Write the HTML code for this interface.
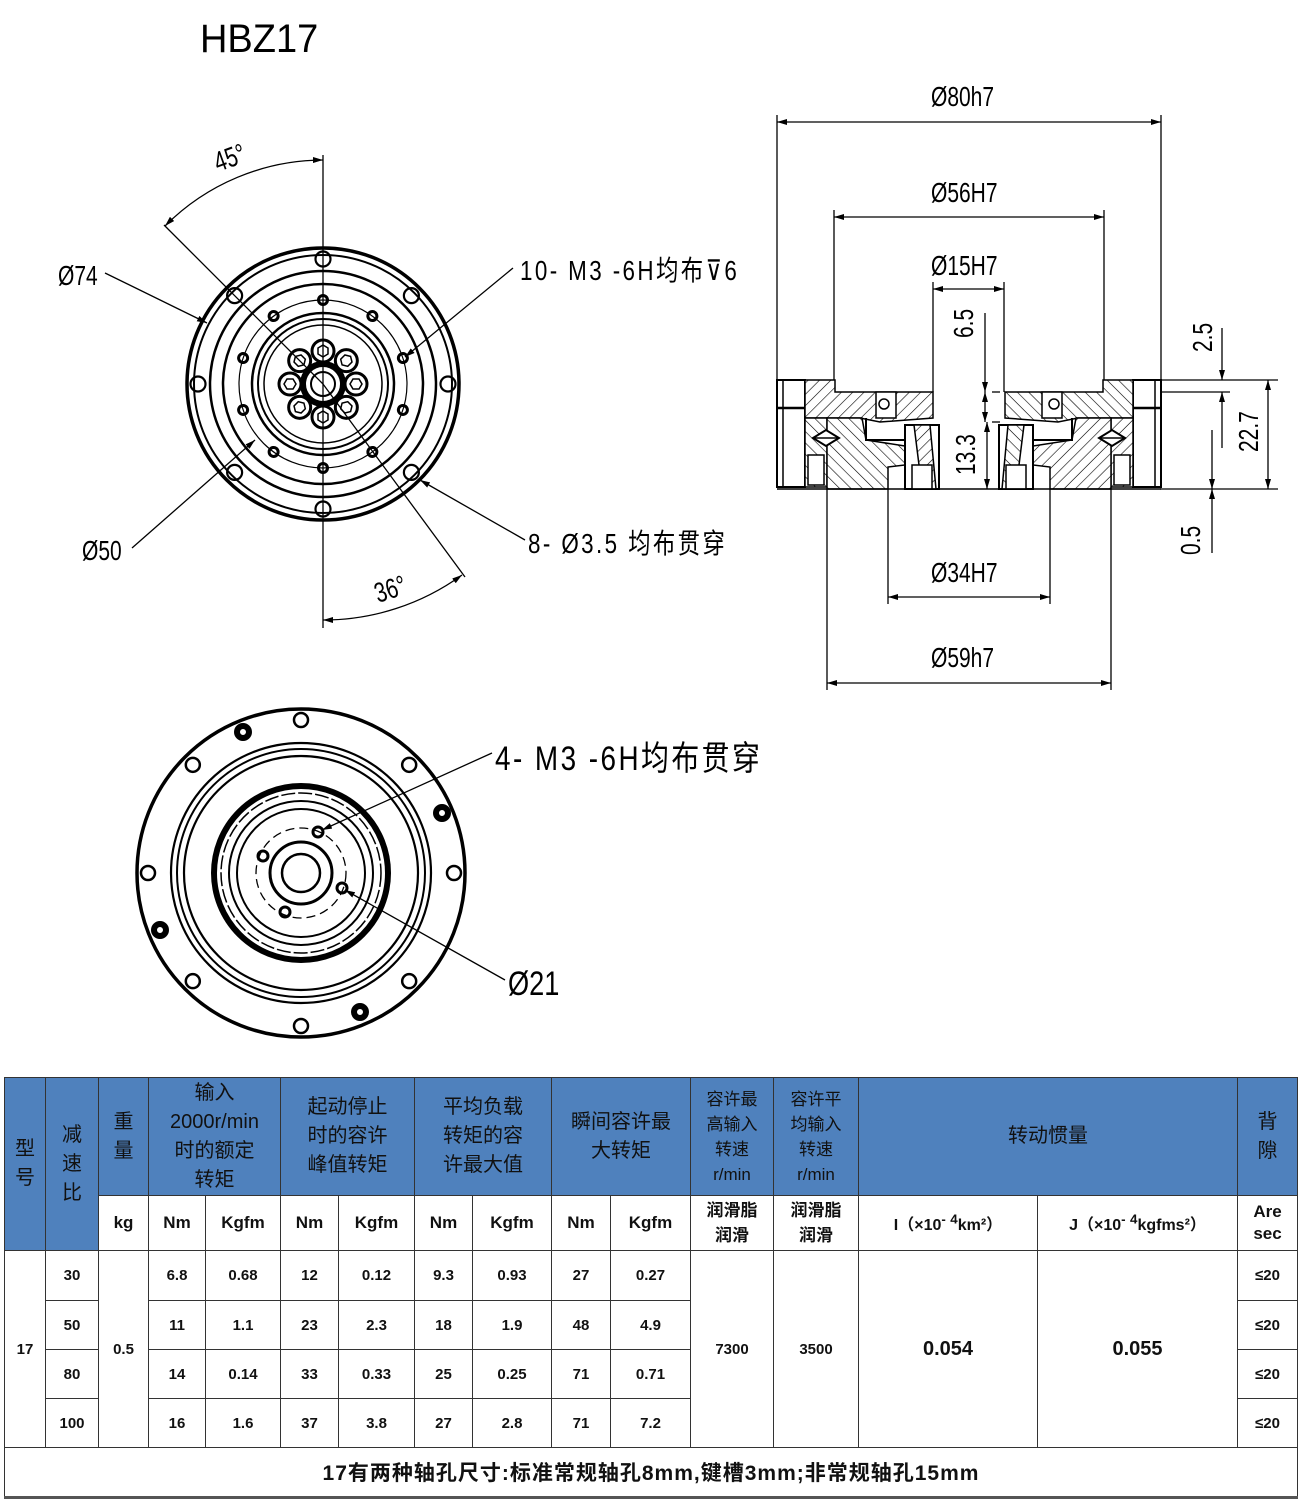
<!DOCTYPE html>
<html><head><meta charset="utf-8">
<style>
html,body{margin:0;padding:0;background:#fff;}
body{width:1300px;height:1505px;position:relative;overflow:hidden;font-family:"Liberation Sans","Noto Sans CJK SC",sans-serif;}
svg{position:absolute;left:0;top:0;}
table{position:absolute;left:4px;top:1077px;border-collapse:collapse;table-layout:fixed;width:1293px;}
td{border:1px solid #333;text-align:center;vertical-align:middle;padding:0;font-size:15px;font-weight:bold;color:#111;}
td.h{background:#4f81bd;font-weight:normal;font-size:20px;line-height:29px;color:#111;}
tr.u td{font-size:17px;}
.big{font-size:20px !important;}
</style></head><body>
<svg width="1300" height="1075" viewBox="0 0 1300 1075">
<defs>
<pattern id="hx" width="8" height="8" patternUnits="userSpaceOnUse" patternTransform="rotate(45)">
<rect width="8" height="8" fill="#fff"/><line x1="0" y1="0" x2="0" y2="8" stroke="#000" stroke-width="1.2"/></pattern>
<pattern id="hx2" width="8" height="8" patternUnits="userSpaceOnUse" patternTransform="rotate(-45)">
<rect width="8" height="8" fill="#fff"/><line x1="0" y1="0" x2="0" y2="8" stroke="#000" stroke-width="1.2"/></pattern>
<marker id="ar" markerWidth="10" markerHeight="6" refX="10" refY="3" orient="auto-start-reverse" markerUnits="userSpaceOnUse"><path d="M0,0 L10,3 L0,6 z" fill="#000"/></marker>
</defs>
<text x="200" y="52" font-size="40" font-family="Liberation Sans" transform="translate(200,0) scale(0.95,1) translate(-200,0)">HBZ17</text>

<!-- TOP VIEW -->
<g fill="none" stroke="#000">
<circle cx="323" cy="384" r="136" stroke-width="3.5"/>
<circle cx="323" cy="384" r="129" stroke-width="2"/>
<circle cx="323" cy="384" r="113" stroke-width="2.5"/>
<circle cx="323" cy="384" r="100" stroke-width="2.5"/>
<circle cx="323" cy="384" r="84" stroke-width="1.2"/>
<circle cx="323" cy="384" r="71" stroke-width="2.5"/>
<circle cx="323" cy="384" r="65" stroke-width="2"/>
<circle cx="323" cy="384" r="59" stroke-width="1.5"/>
<circle cx="323" cy="384" r="20" stroke-width="6"/>
<circle cx="323" cy="384" r="12" stroke-width="2"/>
<line x1="323" y1="155" x2="323" y2="628" stroke-width="1.3"/>
<line x1="323" y1="384" x2="164" y2="225" stroke-width="1.3"/>
<line x1="323" y1="384" x2="465" y2="577" stroke-width="1.3"/>
<path d="M323,160 A224,224 0 0 0 165,226" stroke-width="1.3" marker-start="url(#ar)" marker-end="url(#ar)"/>
<path d="M323,620 A236,236 0 0 0 462,575" stroke-width="1.3" marker-start="url(#ar)" marker-end="url(#ar)"/>
<g stroke-width="2.2">
<g id="oh"><circle cx="323" cy="259" r="7.5"/></g>
<use href="#oh" transform="rotate(45 323 384)"/><use href="#oh" transform="rotate(90 323 384)"/>
<use href="#oh" transform="rotate(135 323 384)"/><use href="#oh" transform="rotate(180 323 384)"/>
<use href="#oh" transform="rotate(225 323 384)"/><use href="#oh" transform="rotate(270 323 384)"/>
<use href="#oh" transform="rotate(315 323 384)"/>
</g>
<g stroke-width="3">
<g id="ih"><circle cx="323" cy="300" r="4.5"/></g>
<use href="#ih" transform="rotate(36 323 384)"/><use href="#ih" transform="rotate(72 323 384)"/>
<use href="#ih" transform="rotate(108 323 384)"/><use href="#ih" transform="rotate(144 323 384)"/>
<use href="#ih" transform="rotate(180 323 384)"/><use href="#ih" transform="rotate(216 323 384)"/>
<use href="#ih" transform="rotate(252 323 384)"/><use href="#ih" transform="rotate(288 323 384)"/>
<use href="#ih" transform="rotate(324 323 384)"/>
</g>
<g stroke-width="3">
<g id="nut"><circle cx="323" cy="351" r="11"/><polygon points="323,345 328,348 328,354 323,357 318,354 318,348" stroke-width="1.5"/></g>
<use href="#nut" transform="rotate(45 323 384)"/><use href="#nut" transform="rotate(90 323 384)"/>
<use href="#nut" transform="rotate(135 323 384)"/><use href="#nut" transform="rotate(180 323 384)"/>
<use href="#nut" transform="rotate(225 323 384)"/><use href="#nut" transform="rotate(270 323 384)"/>
<use href="#nut" transform="rotate(315 323 384)"/>
</g>
<g stroke-width="1.3">
<line x1="105" y1="273" x2="207" y2="323" marker-end="url(#ar)"/>
<line x1="513" y1="268" x2="405" y2="357" marker-end="url(#ar)"/>
<line x1="525" y1="540" x2="420" y2="480" marker-end="url(#ar)"/>
<line x1="132" y1="548" x2="255" y2="440" marker-end="url(#ar)"/>
</g>
</g>
<g font-family="Liberation Sans,'Noto Sans CJK SC',sans-serif" font-size="28" fill="#000">
<text transform="translate(58,285) scale(0.75,1)">Ø74</text>
<text transform="translate(82,560) scale(0.75,1)">Ø50</text>
<text transform="translate(520,280) scale(0.8,1)" letter-spacing="3">10- M3 -6H均布⊽6</text>
<text transform="translate(528,553) scale(0.8,1)" letter-spacing="3">8- Ø3.5 均布贯穿</text>
<text transform="translate(218,172) rotate(-20) scale(0.75,1)">45°</text>
<text transform="translate(378,603) rotate(-18) scale(0.75,1)">36°</text>
<text transform="translate(495,770) scale(0.82,1)" font-size="34" letter-spacing="3">4- M3 -6H均布贯穿</text>
<text transform="translate(508,995) scale(0.8,1)" font-size="34">Ø21</text>
</g>

<!-- BOTTOM VIEW -->
<g fill="none" stroke="#000">
<circle cx="301" cy="873" r="164" stroke-width="3.5"/>
<circle cx="301" cy="873" r="130" stroke-width="2.2"/>
<circle cx="301" cy="873" r="124" stroke-width="2"/>
<circle cx="301" cy="873" r="117" stroke-width="2.2"/>
<circle cx="301" cy="873" r="87" stroke-width="6"/>
<circle cx="301" cy="873" r="80" stroke-width="1.5" stroke-dasharray="14 3"/>
<circle cx="301" cy="873" r="72" stroke-width="2"/>
<circle cx="301" cy="873" r="64" stroke-width="2"/>
<circle cx="301" cy="873" r="45" stroke-width="1.3" stroke-dasharray="9 5"/>
<circle cx="301" cy="873" r="31" stroke-width="3"/>
<circle cx="301" cy="873" r="19" stroke-width="2.5"/>
<g stroke-width="2.5">
<g id="bh"><circle cx="301" cy="720" r="7"/></g>
<use href="#bh" transform="rotate(45 301 873)"/><use href="#bh" transform="rotate(90 301 873)"/>
<use href="#bh" transform="rotate(135 301 873)"/><use href="#bh" transform="rotate(180 301 873)"/>
<use href="#bh" transform="rotate(225 301 873)"/><use href="#bh" transform="rotate(270 301 873)"/>
<use href="#bh" transform="rotate(315 301 873)"/>
</g>
<g stroke-width="6">
<circle cx="243" cy="732" r="6"/><circle cx="442" cy="813" r="6"/>
<circle cx="160" cy="930" r="6"/><circle cx="360" cy="1012" r="6"/>
</g>
<g stroke-width="3">
<circle cx="318" cy="832" r="5"/><circle cx="263" cy="856" r="5"/>
<circle cx="342" cy="888" r="5"/><circle cx="285" cy="912" r="5"/>
</g>
<g stroke-width="1.3">
<line x1="492" y1="753" x2="322" y2="830" marker-end="url(#ar)"/>
<line x1="505" y1="980" x2="345" y2="890" marker-end="url(#ar)"/>
</g>
</g>

<!-- SECTION VIEW -->
<g fill="none" stroke="#000" stroke-width="1.3">
<line x1="777" y1="115" x2="777" y2="380"/><line x1="1161" y1="115" x2="1161" y2="380"/>
<line x1="834" y1="210" x2="834" y2="380"/><line x1="1104" y1="210" x2="1104" y2="380"/>
<line x1="933" y1="282" x2="933" y2="392"/><line x1="1004" y1="282" x2="1004" y2="392"/>
<line x1="827" y1="489" x2="827" y2="690"/><line x1="1111" y1="489" x2="1111" y2="690"/>
<line x1="888" y1="489" x2="888" y2="604"/><line x1="1050" y1="489" x2="1050" y2="604"/>
<line x1="777" y1="122" x2="1161" y2="122" marker-start="url(#ar)" marker-end="url(#ar)"/>
<line x1="834" y1="217" x2="1104" y2="217" marker-start="url(#ar)" marker-end="url(#ar)"/>
<line x1="933" y1="289" x2="1004" y2="289" marker-start="url(#ar)" marker-end="url(#ar)"/>
<line x1="888" y1="597" x2="1050" y2="597" marker-start="url(#ar)" marker-end="url(#ar)"/>
<line x1="827" y1="683" x2="1111" y2="683" marker-start="url(#ar)" marker-end="url(#ar)"/>
<line x1="1160" y1="380" x2="1278" y2="380"/><line x1="1110" y1="392" x2="1230" y2="392"/>
<line x1="1160" y1="489" x2="1278" y2="489"/>
<line x1="1268" y1="380" x2="1268" y2="489" marker-start="url(#ar)" marker-end="url(#ar)"/>
<line x1="1222" y1="328" x2="1222" y2="380" marker-end="url(#ar)"/>
<line x1="1222" y1="448" x2="1222" y2="392" marker-end="url(#ar)"/>
<line x1="1212" y1="430" x2="1212" y2="489" marker-end="url(#ar)"/>
<line x1="1212" y1="553" x2="1212" y2="489" marker-end="url(#ar)"/>
<line x1="985" y1="313" x2="985" y2="392" marker-end="url(#ar)"/>
<line x1="985" y1="392" x2="985" y2="422" marker-start="url(#ar)" marker-end="url(#ar)"/>
<line x1="987" y1="422" x2="987" y2="489" marker-start="url(#ar)" marker-end="url(#ar)"/>
<line x1="992" y1="392" x2="1000" y2="392"/><line x1="992" y1="422" x2="1000" y2="422"/>
</g>
<g id="half" stroke="#000" stroke-width="1.5">
<rect x="777" y="380" width="28" height="107" fill="#fff" stroke-width="2"/>
<line x1="783" y1="380" x2="783" y2="487"/><line x1="777" y1="408" x2="805" y2="408" stroke-width="2.5"/>
<polygon points="805,380 835,380 835,392 933,392 933,418 880,422 860,418 805,418" fill="url(#hx)"/>
<polygon points="805,418 827,418 827,487 805,487" fill="url(#hx2)"/>
<polygon points="827,418 862,418 866,440 905,446 905,465 888,467 888,489 827,489" fill="url(#hx2)"/>
<polygon points="813,438 826,430 839,438 826,446" fill="#fff" stroke-width="2"/>
<line x1="813" y1="438" x2="839" y2="438"/>
<rect x="808" y="455" width="16" height="30" fill="#fff"/>
<path d="M866,418 L866,440 L905,440" fill="none" stroke-width="2"/>
<rect x="876" y="392" width="20" height="26" fill="#fff"/>
<circle cx="884" cy="404" r="5" fill="#fff"/>
<rect x="905" y="425" width="34" height="64" fill="#fff" stroke-width="2"/>
<polygon points="914,425 930,425 936,489 922,489" fill="url(#hx)"/>
<rect x="912" y="465" width="20" height="24" fill="#fff"/>
</g>
<use href="#half" transform="translate(1938,0) scale(-1,1)"/>
<line x1="777" y1="489" x2="1161" y2="489" stroke="#000" stroke-width="1.5"/>
<g font-family="Liberation Sans,sans-serif" font-size="28" fill="#000">
<text transform="translate(931,106) scale(0.75,1)">Ø80h7</text>
<text transform="translate(931,202) scale(0.75,1)">Ø56H7</text>
<text transform="translate(931,275) scale(0.75,1)">Ø15H7</text>
<text transform="translate(931,582) scale(0.75,1)">Ø34H7</text>
<text transform="translate(931,667) scale(0.75,1)">Ø59h7</text>
<text transform="translate(973,338) rotate(-90) scale(0.75,1)">6.5</text>
<text transform="translate(975,475) rotate(-90) scale(0.75,1)">13.3</text>
<text transform="translate(1212,352) rotate(-90) scale(0.75,1)">2.5</text>
<text transform="translate(1258,452) rotate(-90) scale(0.75,1)">22.7</text>
<text transform="translate(1200,555) rotate(-90) scale(0.75,1)">0.5</text>
</g>
</svg>

<table>
<colgroup>
<col style="width:41px"><col style="width:53px"><col style="width:50px"><col style="width:57px"><col style="width:75px"><col style="width:58px"><col style="width:76px"><col style="width:58px"><col style="width:79px"><col style="width:59px"><col style="width:80px"><col style="width:83px"><col style="width:85px"><col style="width:179px"><col style="width:200px"><col style="width:60px">
</colgroup>
<tr style="height:118px">
<td class="h" rowspan="2">型<br>号</td>
<td class="h" rowspan="2">减<br>速<br>比</td>
<td class="h">重<br>量</td>
<td class="h" colspan="2">输入<br>2000r/min<br>时的额定<br>转矩</td>
<td class="h" colspan="2">起动停止<br>时的容许<br>峰值转矩</td>
<td class="h" colspan="2">平均负载<br>转矩的容<br>许最大值</td>
<td class="h" colspan="2">瞬间容许最<br>大转矩</td>
<td class="h" style="font-size:17px;line-height:25px">容许最<br>高输入<br>转速<br>r/min</td>
<td class="h" style="font-size:17px;line-height:25px">容许平<br>均输入<br>转速<br>r/min</td>
<td class="h" colspan="2">转动惯量</td>
<td class="h">背<br>隙</td>
</tr>
<tr style="height:55px" class="u">
<td>kg</td><td>Nm</td><td>Kgfm</td><td>Nm</td><td>Kgfm</td><td>Nm</td><td>Kgfm</td><td>Nm</td><td>Kgfm</td>
<td style="line-height:25px">润滑脂<br>润滑</td><td style="line-height:25px">润滑脂<br>润滑</td>
<td style="font-size:16px">I（×10<sup>-</sup> <sup>4</sup>km²）</td><td style="font-size:16px">J（×10<sup>-</sup> <sup>4</sup>kgfms²）</td>
<td style="line-height:22px">Are<br>sec</td>
</tr>
<tr style="height:50px">
<td rowspan="4">17</td><td>30</td><td rowspan="4">0.5</td><td>6.8</td><td>0.68</td><td>12</td><td>0.12</td><td>9.3</td><td>0.93</td><td>27</td><td>0.27</td>
<td rowspan="4">7300</td><td rowspan="4">3500</td><td rowspan="4" class="big">0.054</td><td rowspan="4" class="big">0.055</td><td>≤20</td></tr>
<tr style="height:49px"><td>50</td><td>11</td><td>1.1</td><td>23</td><td>2.3</td><td>18</td><td>1.9</td><td>48</td><td>4.9</td><td>≤20</td></tr>
<tr style="height:49px"><td>80</td><td>14</td><td>0.14</td><td>33</td><td>0.33</td><td>25</td><td>0.25</td><td>71</td><td>0.71</td><td>≤20</td></tr>
<tr style="height:49px"><td>100</td><td>16</td><td>1.6</td><td>37</td><td>3.8</td><td>27</td><td>2.8</td><td>71</td><td>7.2</td><td>≤20</td></tr>
<tr style="height:50px"><td colspan="16" style="font-size:21px;letter-spacing:1px;border-bottom:3px solid #555">17有两种轴孔尺寸:标准常规轴孔8mm,键槽3mm;非常规轴孔15mm</td></tr>
</table>
</body></html>
